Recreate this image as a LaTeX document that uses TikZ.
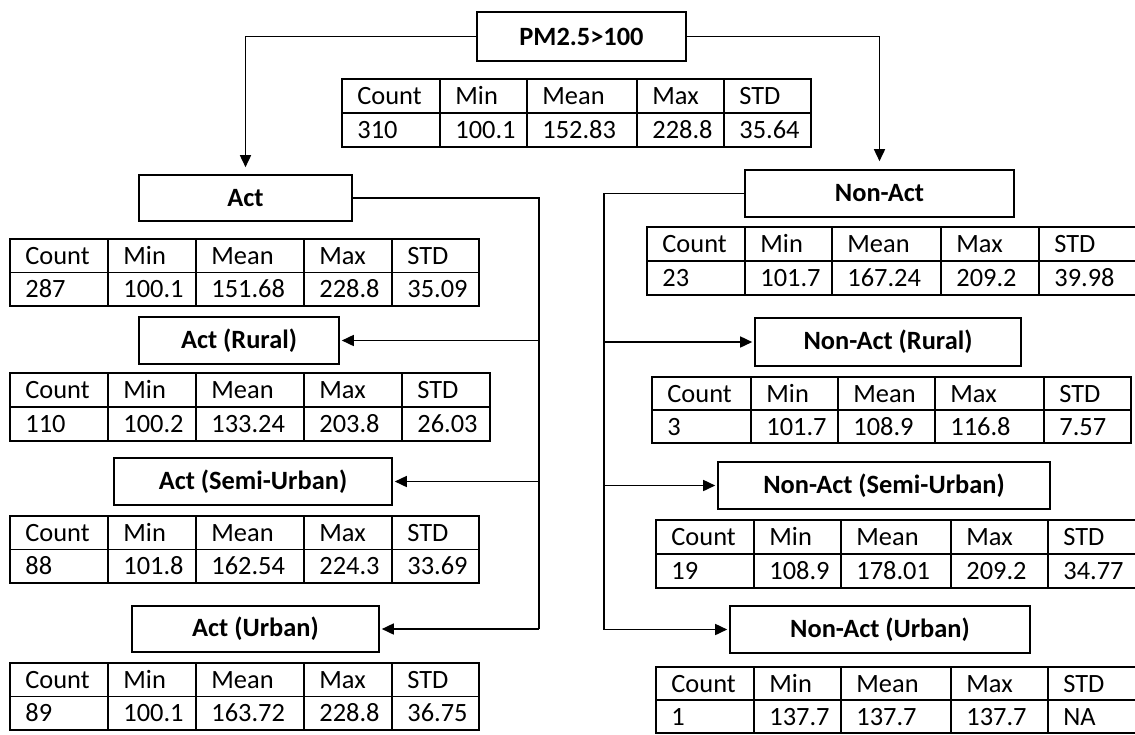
\documentclass[tikz,border=0pt]{standalone}
\usepackage{fontspec}
\setmainfont{Carlito}
\usepackage{tikz}
\usetikzlibrary{arrows.meta}

% one statistics table: name, left, top, bottom, right, list of column-x/value
\newcommand{\stattab}[6]{%
  \draw[grid] (#2,#3) rectangle (#5,#4);
  \draw[grid] (#2,{(#3+#4)/2}) -- (#5,{(#3+#4)/2});
  \foreach \cx/\vl [count=\i] in {#6} {
    \draw[grid] (\cx,#3) -- (\cx,#4);
    \node[cell] (#1-h\i) at (\cx+15,{#3+(#4-#3)/4+8.5}) {\ifcase\i\or Count\or Min\or Mean\or Max\or STD\fi};
    \node[cell] (#1-v\i) at (\cx+15,{#3+3*(#4-#3)/4+8.5}) {\vl};
  }
}

\begin{document}
\begin{tikzpicture}[x=0.5pt, y=-0.5pt,
  font=\fontsize{13.2}{16}\selectfont,
  box/.style={draw, line width=0.8pt, inner sep=0pt, font=\fontsize{13.2}{16}\selectfont\bfseries},
  grid/.style={line width=0.8pt},
  cell/.style={anchor=base west, inner sep=0pt},
  link/.style={line width=0.8pt},
  arrow/.style={link, -{Triangle[length=6pt, width=5.5pt]}, shorten >=1pt}
]
\useasboundingbox (0,0) rectangle (1135,734);

% root
\node[box, minimum width=104.5pt, minimum height=24.5pt] (pm) at (581.5,36.5) {PM2.5>100};
\stattab{tpm}{342}{79}{147}{811}{342/310, 440/100.1, 527/152.83, 637/228.8, 724/35.64}

% Act branch
\node[box, minimum width=106.5pt, minimum height=23pt] (act) at (245.5,198) {Act};
\stattab{tact}{10}{239}{306}{479}{10/287, 108/100.1, 196/151.68, 304/228.8, 392/35.09}

\node[box, minimum width=100pt, minimum height=23.5pt] (arural) at (239,340.5) {Act (Rural)};
\stattab{tarural}{10}{373}{441}{490}{10/110, 108/100.2, 196/133.24, 304/203.8, 402/26.03}

\node[box, minimum width=139pt, minimum height=23.5pt] (asemi) at (253,481.5) {Act (Semi-Urban)};
\stattab{tasemi}{10}{516}{583}{479}{10/88, 108/101.8, 196/162.54, 304/224.3, 392/33.69}

\node[box, minimum width=123.5pt, minimum height=23pt] (aurban) at (255.5,629) {Act (Urban)};
\stattab{taurban}{10}{663}{730}{479}{10/89, 108/100.1, 196/163.72, 304/228.8, 392/36.75}

% Non-Act branch
\node[box, minimum width=134.5pt, minimum height=23.5pt] (nact) at (879.5,193.5) {Non-Act};
\stattab{tnact}{647}{227}{295}{1137}{647/23, 745/101.7, 832/167.24, 941/209.2, 1039/39.98}

\node[box, minimum width=133pt, minimum height=24pt] (nrural) at (888,342) {Non-Act (Rural)};
\stattab{tnrural}{652}{377}{443}{1131}{652/3, 751/101.7, 838/108.9, 935/116.8, 1044/7.57}

\node[box, minimum width=166pt, minimum height=23.5pt] (nsemi) at (884,485.5) {Non-Act (Semi-Urban)};
\stattab{tnsemi}{656}{520}{588}{1137}{656/19, 754/108.9, 841/178.01, 951/209.2, 1048/34.77}

\node[box, minimum width=150pt, minimum height=23.5pt] (nurban) at (880,629.5) {Non-Act (Urban)};
\stattab{tnurban}{656}{667}{733}{1137}{656/1, 754/137.7, 841/137.7, 951/137.7, 1048/NA}

% connectors
\draw[arrow, shorten >=3.5pt] (pm.west) -| (act.north);
\draw[arrow, shorten >=4pt] (pm.east) -| (nact.north);

\coordinate (abus) at (539,629);
\draw[link] (act.east) -| (abus);
\foreach \n in {arural, asemi, aurban}
  \draw[arrow] (abus |- \n.east) -- (\n.east);

\coordinate (nbus) at (604,629.5);
\draw[link] (nact.west) -| (nbus);
\foreach \n in {nrural, nsemi, nurban}
  \draw[arrow] (nbus |- \n.west) -- (\n.west);

\end{tikzpicture}
\end{document}
